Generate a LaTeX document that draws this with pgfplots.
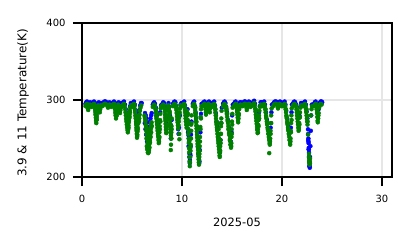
\documentclass[border=0pt]{standalone}
\usepackage{fontspec}
\setmainfont{DejaVu Sans}
\usepackage{pgfplots}
\pgfplotsset{compat=1.18}
\definecolor{mgreen}{RGB}{0,128,0}
\definecolor{gridc}{RGB}{230,230,230}
\begin{document}
\begin{tikzpicture}[x=1bp,y=1bp]
\path[use as bounding box] (-82bp,-71bp) rectangle (329bp,177bp);
\begin{axis}[
  at={(0,0)}, anchor=south west,
  scale only axis, width=310bp, height=154bp,
  xmin=0, xmax=31, ymin=200, ymax=400,
  xtick={0,10,20,30}, ytick={200,300,400},
  minor tick num=0,
  tick align=outside, major tick length=9bp,
  every tick/.style={black, line width=1.1bp},
  axis line style={black, line width=1.4bp},
  xtick pos=bottom, ytick pos=left,
  grid=major, major grid style={draw=gridc, line width=1.3bp},
  /pgf/number format/assume math mode=true,
  ticklabel style={font=\fontsize{10}{12}\selectfont},
  xticklabel style={yshift=-6bp},
  yticklabel style={xshift=-4bp},
  xlabel={2025-05}, ylabel={3.9 \& 11 Temperature(K)},
  every axis x label/.style={at={(axis description cs:0.5,0)}, yshift=-45.5bp, anchor=center, font=\fontsize{11.5}{13}\selectfont},
  every axis y label/.style={at={(axis description cs:0,0.5)}, xshift=-59bp, yshift=-3bp, rotate=90, anchor=center, font=\fontsize{12}{14}\selectfont},
  clip=true,
]
% 3.9 um (blue)
\addplot[only marks, mark=*, mark size=2bp, color=blue] coordinates {
(0.35,295)(0.42,297)(0.5,298)(0.58,295)(0.62,292)(0.68,294)(0.75,296)(0.82,297)(0.9,296)(0.97,294)
(1.05,295)(1.12,297)(1.2,298)(1.28,296)(1.32,292)(1.36,287)(1.42,280)(1.48,284)(1.53,290)(1.6,296)(1.68,297)(1.76,292)(1.82,294)(1.9,296)(1.97,295)
(2.05,295)(2.15,297)(2.25,298)(2.35,298)(2.45,297)(2.55,295)(2.65,296)(2.75,297)(2.85,296)(2.95,294)
(3.05,295)(3.12,297)(3.2,298)(3.28,294)(3.34,289)(3.42,284)(3.5,290)(3.58,296)(3.66,297)(3.74,293)(3.8,290)(3.86,293)(3.94,296)
(4.05,295)(4.12,297)(4.2,298)(4.3,294)(4.38,288)(4.46,280)(4.55,272)(4.64,276)(4.72,284)(4.8,292)(4.88,296)(4.96,295)
(5.05,295)(5.12,297)(5.2,298)(5.28,294)(5.34,287)(5.42,276)(5.5,265)(5.58,272)(5.66,283)(5.74,287)(5.82,293)(5.9,296)(5.97,296)
(6.3,283)(6.38,280)(6.45,276)(6.55,271)(6.65,265)(6.75,271)(6.85,276)(6.92,280)(6.97,283)(6.6,260)(6.7,252)
(6.28,270)(6.35,262)(6.42,255)(6.5,246)
(7.08,294)(7.15,296)(7.22,297)(7.3,295)(7.38,290)(7.48,280)(7.58,268)(7.66,262)(7.74,272)(7.82,284)(7.9,293)(7.97,294)
(8.05,295)(8.12,297)(8.2,296)(8.28,290)(8.36,280)(8.42,270)(8.5,278)(8.58,292)(8.65,296)(8.72,291)(8.8,280)(8.86,268)(8.92,262)(8.96,274)
(8.4,262)(8.88,250)
(9.1,295)(9.18,297)(9.26,298)(9.34,297)(9.42,292)(9.5,284)(9.58,274)(9.62,262)(9.66,256)(9.7,264)(9.78,280)(9.86,294)(9.94,296)
(10.08,295)(10.15,297)(10.22,298)(10.3,293)(10.38,283)(10.46,275)(10.55,288)(10.6,272)(10.63,262)(10.66,254)(10.7,246)(10.73,238)(10.76,230)(10.79,222)(10.82,230)(10.86,240)(10.9,255)(10.95,272)
(10.6,258)(10.66,240)(10.74,226)(10.78,218)(10.84,228)
(11.08,295)(11.15,297)(11.22,298)(11.3,292)(11.36,284)(11.42,276)(11.48,266)(11.54,258)(11.6,248)(11.66,236)(11.7,226)(11.74,220)(11.78,235)(11.84,258)(11.9,282)(11.96,295)
(11.58,240)(11.64,230)(11.72,218)
(12.05,295)(12.15,297)(12.25,298)(12.35,293)(12.42,287)(12.5,295)(12.6,297)(12.7,298)(12.77,292)(12.85,295)(12.95,296)
(13.08,295)(13.15,297)(13.22,298)(13.3,293)(13.38,283)(13.46,272)(13.54,262)(13.62,252)(13.7,240)(13.78,232)(13.85,248)(13.92,270)(13.98,290)
(13.5,266)(13.68,246)
(14.1,295)(14.18,297)(14.26,298)(14.34,296)(14.42,291)(14.5,284)(14.6,274)(14.7,264)(14.8,254)(14.88,246)(14.95,258)(15.02,280)(15.08,294)
(15.2,295)(15.28,297)(15.36,298)(15.46,294)(15.54,287)(15.62,282)(15.7,290)(15.8,297)(15.9,297)(15.97,295)
(16.08,295)(16.16,297)(16.24,298)(16.32,298)(16.42,296)(16.5,293)(16.58,296)(16.68,298)(16.78,297)(16.88,295)(16.96,296)
(17.08,296)(17.15,298)(17.22,299)(17.3,295)(17.38,286)(17.46,276)(17.54,268)(17.62,274)(17.7,284)(17.78,292)(17.86,297)(17.94,297)
(18.08,295)(18.15,297)(18.22,298)(18.3,294)(18.4,284)(18.5,274)(18.6,264)(18.7,256)(18.78,248)(18.86,264)(18.94,284)(18.99,294)
(19.12,295)(19.2,297)(19.3,298)(19.4,298)(19.5,297)(19.6,294)(19.7,297)(19.8,298)(19.9,297)(19.98,295)
(20.1,295)(20.18,297)(20.26,298)(20.34,294)(20.42,286)(20.52,276)(20.62,266)(20.72,256)(20.8,248)(20.88,264)(20.95,284)(20.99,294)
(21.08,295)(21.16,297)(21.24,298)(21.32,297)(21.42,294)(21.5,286)(21.58,276)(21.66,270)(21.74,280)(21.82,291)(21.9,296)(21.97,296)
(22.15,295)(22.22,297)(22.3,298)(22.38,294)(22.46,285)(22.54,276)(22.6,262)(22.62,256)(22.64,250)(22.66,244)(22.68,238)(22.7,232)(22.72,226)(22.74,220)(22.76,214)(22.78,218)(22.8,226)(22.84,240)(22.88,260)(22.92,280)(22.98,294)(22.65,246)(22.69,236)
(22.62,248)(22.66,236)(22.7,226)(22.74,214)(22.78,212)
(23.2,295)(23.28,297)(23.36,298)(23.44,294)(23.52,287)(23.58,282)(23.66,288)(23.76,296)(23.86,298)(23.96,298)(24.02,297)
};
% 11 um (green)
\addplot[only marks, mark=*, mark size=2bp, color=mgreen] coordinates {
(0.35,292)(0.42,294)(0.5,295)(0.55,292)(0.58,289)(0.62,287)(0.66,290)(0.72,293)(0.8,294)(0.88,293)(0.95,291)
(1.05,292)(1.12,294)(1.2,295)(1.27,293)(1.3,289)(1.33,285)(1.35,281)(1.38,277)(1.4,273)(1.43,270)(1.46,274)(1.48,278)(1.5,282)(1.53,286)(1.56,290)(1.62,293)(1.7,291)(1.75,287)(1.78,284)(1.82,288)(1.88,293)(1.95,292)
(1.37,283)(1.42,279)(1.47,275)(1.52,284)
(2.05,292)(2.15,294)(2.25,295)(2.35,295)(2.45,294)(2.55,292)(2.6,290)(2.65,293)(2.75,294)(2.85,293)(2.92,291)
(3.05,292)(3.12,294)(3.2,295)(3.26,292)(3.3,288)(3.33,284)(3.36,280)(3.4,276)(3.44,279)(3.47,283)(3.5,287)(3.55,291)(3.62,294)(3.7,292)(3.75,288)(3.78,285)(3.8,283)(3.84,287)(3.9,292)(3.96,291)
(3.38,282)(3.46,280)
(4.05,292)(4.12,294)(4.2,295)(4.27,292)(4.32,288)(4.35,284)(4.38,280)(4.42,276)(4.45,272)(4.48,268)(4.52,264)(4.55,261)(4.58,258)(4.62,262)(4.65,267)(4.68,271)(4.72,276)(4.75,281)(4.78,286)(4.82,290)(4.9,293)(4.96,291)
(4.4,282)(4.46,274)(4.5,270)(4.56,266)(4.6,260)(4.66,264)(4.7,273)(4.76,278)(4.8,284)
(5.05,292)(5.12,294)(5.2,295)(5.25,292)(5.28,288)(5.31,284)(5.34,280)(5.37,276)(5.4,272)(5.42,268)(5.44,264)(5.46,260)(5.48,256)(5.5,251)(5.53,255)(5.55,259)(5.57,264)(5.6,269)(5.62,274)(5.64,279)(5.67,276)(5.7,272)(5.73,276)(5.76,281)(5.8,286)(5.85,290)(5.92,293)
(5.32,286)(5.38,278)(5.43,270)(5.47,262)(5.52,253)(5.58,262)(5.63,270)(5.68,280)
(6.25,280)(6.3,276)(6.33,272)(6.36,268)(6.4,264)(6.43,260)(6.46,256)(6.5,252)(6.53,248)(6.56,244)(6.6,240)(6.63,236)(6.66,232)(6.7,235)(6.72,239)(6.75,243)(6.78,247)(6.8,251)(6.83,255)(6.86,259)(6.9,263)(6.93,267)(6.96,271)(6.48,240)(6.52,236)(6.58,232)(6.62,231)(6.68,245)(6.74,255)(6.8,262)
(6.28,278)(6.35,274)(6.42,266)(6.5,258)(6.56,250)(6.62,242)(6.68,236)(6.74,238)(6.8,245)(6.86,252)(6.92,258)(6.98,266)(6.45,250)(6.55,238)(6.65,234)(6.75,248)(6.85,264)(6.9,270)
(7.08,291)(7.15,293)(7.22,294)(7.3,292)(7.35,288)(7.38,284)(7.41,280)(7.44,276)(7.47,272)(7.5,268)(7.53,264)(7.56,260)(7.59,256)(7.62,252)(7.65,248)(7.68,244)(7.71,250)(7.74,258)(7.77,266)(7.8,274)(7.83,282)(7.87,289)(7.93,292)
(7.4,286)(7.46,278)(7.52,270)(7.58,262)(7.64,254)(7.7,246)(7.74,252)(7.79,262)(7.84,272)
(8.05,292)(8.12,294)(8.2,293)(8.25,289)(8.28,285)(8.3,281)(8.32,277)(8.34,273)(8.36,269)(8.38,265)(8.4,261)(8.42,257)(8.45,262)(8.48,268)(8.5,274)(8.53,280)(8.56,286)(8.6,291)(8.65,293)(8.7,290)(8.73,286)(8.75,282)(8.77,278)(8.79,274)(8.81,270)(8.83,266)(8.85,262)(8.87,258)(8.89,254)(8.91,250)(8.9,242)(8.88,235)(8.93,258)(8.95,266)(8.97,276)
(8.3,287)(8.36,275)(8.42,265)(8.46,258)(8.5,266)(8.78,284)(8.82,276)(8.86,266)(8.9,256)(8.94,250)(8.96,262)
(9.1,292)(9.18,294)(9.26,295)(9.34,294)(9.4,291)(9.44,287)(9.47,283)(9.5,279)(9.53,275)(9.56,271)(9.59,267)(9.62,263)(9.65,267)(9.68,272)(9.72,278)(9.76,284)(9.8,289)(9.86,293)(9.93,292)(9.72,256)(9.74,249)
(9.46,289)(9.52,283)(9.58,273)(9.62,268)(9.68,276)(9.74,282)
(10.08,292)(10.15,294)(10.22,295)(10.28,292)(10.3,288)(10.32,284)(10.34,280)(10.36,276)(10.38,272)(10.42,268)(10.46,264)(10.5,286)(10.55,280)(10.58,274)(10.6,268)(10.62,262)(10.64,256)(10.66,250)(10.68,244)(10.7,238)(10.72,232)(10.74,226)(10.76,220)(10.78,214)(10.8,219)(10.82,226)(10.85,234)(10.87,242)(10.9,250)(10.92,260)(10.94,270)(10.96,280)
(10.35,286)(10.4,276)(10.6,282)(10.64,270)(10.68,258)(10.72,246)(10.76,236)(10.8,226)(10.84,238)(10.88,250)(10.92,268)
(11.08,292)(11.15,294)(11.22,295)(11.28,291)(11.31,287)(11.34,283)(11.37,279)(11.4,275)(11.42,271)(11.44,267)(11.46,263)(11.48,259)(11.5,255)(11.52,251)(11.54,247)(11.56,243)(11.58,239)(11.6,235)(11.62,231)(11.64,227)(11.66,223)(11.68,219)(11.7,216)(11.72,222)(11.74,230)(11.77,240)(11.8,252)(11.83,265)(11.86,278)(11.9,288)(11.95,292)
(11.33,290)(11.38,282)(11.44,272)(11.5,262)(11.56,252)(11.6,244)(11.64,238)(11.68,230)(11.72,226)(11.76,234)(11.8,246)(11.85,262)(11.9,276)
(12.05,292)(12.15,294)(12.25,295)(12.32,292)(12.35,288)(12.38,284)(12.4,281)(12.43,285)(12.46,290)(12.55,294)(12.65,295)(12.72,292)(12.75,288)(12.78,284)(12.82,289)(12.9,293)(12.96,291)
(13.08,292)(13.15,294)(13.22,295)(13.28,292)(13.31,288)(13.34,284)(13.37,280)(13.4,276)(13.43,272)(13.46,268)(13.49,264)(13.52,260)(13.55,256)(13.58,252)(13.61,248)(13.64,244)(13.67,240)(13.7,236)(13.73,232)(13.76,228)(13.78,226)(13.8,232)(13.82,240)(13.84,248)(13.87,256)(13.9,266)(13.93,276)(13.96,286)(13.6,270)(13.66,262)(13.72,250)
(13.35,288)(13.4,280)(13.46,270)(13.52,262)(13.58,256)(13.64,250)(13.7,242)(13.76,236)(13.82,234)(13.86,244)(13.9,256)(13.94,270)
(14.1,292)(14.18,294)(14.26,295)(14.34,293)(14.4,290)(14.44,286)(14.48,282)(14.52,278)(14.56,274)(14.6,270)(14.64,266)(14.68,262)(14.72,258)(14.76,254)(14.8,250)(14.84,246)(14.88,242)(14.9,238)(14.93,244)(14.95,252)(14.97,262)(15.0,272)(15.03,282)(15.06,290)
(14.46,288)(14.52,282)(14.58,272)(14.64,262)(14.7,256)(14.78,248)(14.84,242)(14.92,240)(14.98,256)(15.02,268)
(15.2,292)(15.28,294)(15.36,295)(15.44,293)(15.48,289)(15.51,285)(15.54,281)(15.57,277)(15.6,273)(15.62,271)(15.65,276)(15.68,282)(15.72,288)(15.78,293)(15.86,294)(15.94,292)
(15.55,284)(15.6,278)(15.66,280)
(16.08,292)(16.16,294)(16.24,295)(16.32,295)(16.4,293)(16.45,290)(16.48,287)(16.52,290)(16.6,294)(16.7,295)(16.78,294)(16.85,291)(16.92,292)
(17.08,293)(17.15,295)(17.22,296)(17.28,293)(17.32,289)(17.35,285)(17.38,281)(17.41,277)(17.44,273)(17.47,269)(17.5,265)(17.53,261)(17.56,257)(17.59,262)(17.62,268)(17.66,274)(17.7,280)(17.74,286)(17.8,291)(17.88,294)(17.95,293)
(17.36,288)(17.42,280)(17.48,272)(17.54,262)(17.6,258)(17.66,266)(17.72,276)
(18.08,292)(18.15,294)(18.22,295)(18.28,292)(18.32,288)(18.36,284)(18.4,280)(18.44,276)(18.48,272)(18.52,268)(18.56,264)(18.6,260)(18.64,256)(18.68,252)(18.72,248)(18.76,244)(18.78,242)(18.82,250)(18.85,260)(18.88,270)(18.92,280)(18.96,289)(18.72,231)
(18.36,288)(18.42,278)(18.5,270)(18.58,262)(18.66,256)(18.74,250)(18.8,246)(18.86,256)(18.92,270)
(19.12,292)(19.2,294)(19.3,295)(19.4,295)(19.5,294)(19.56,291)(19.6,289)(19.65,292)(19.75,295)(19.85,294)(19.94,292)
(20.1,292)(20.18,294)(20.26,295)(20.32,292)(20.36,288)(20.4,284)(20.44,280)(20.48,276)(20.52,272)(20.56,268)(20.6,264)(20.64,260)(20.68,256)(20.72,252)(20.76,248)(20.8,244)(20.82,242)(20.85,250)(20.88,260)(20.91,270)(20.94,280)(20.97,289)
(20.4,288)(20.46,278)(20.54,270)(20.62,262)(20.7,256)(20.78,248)(20.84,246)(20.9,258)(20.96,274)
(21.08,292)(21.16,294)(21.24,295)(21.32,294)(21.4,292)(21.45,288)(21.48,284)(21.51,280)(21.54,276)(21.57,272)(21.6,268)(21.63,264)(21.66,260)(21.69,264)(21.72,270)(21.76,277)(21.8,284)(21.85,290)(21.92,293)
(21.5,287)(21.56,280)(21.62,270)(21.68,262)(21.74,268)(21.8,278)
(22.15,292)(22.22,294)(22.3,295)(22.36,292)(22.4,288)(22.43,284)(22.46,280)(22.49,276)(22.52,272)(22.55,268)(22.6,255)(22.7,226)(22.72,222)(22.74,218)(22.76,216)(22.78,220)(22.8,224)(22.9,280)(22.95,288)(23.0,292)(22.7,230)
(22.45,288)(22.5,280)(22.56,272)(22.72,220)(22.76,224)(22.8,218)
(23.2,292)(23.28,294)(23.36,295)(23.42,292)(23.46,288)(23.5,283)(23.53,278)(23.56,273)(23.58,271)(23.62,276)(23.66,283)(23.72,290)(23.8,294)(23.88,295)(23.96,294)
(23.52,286)(23.58,278)(23.64,280)
};
\end{axis}
\end{tikzpicture}
\end{document}
